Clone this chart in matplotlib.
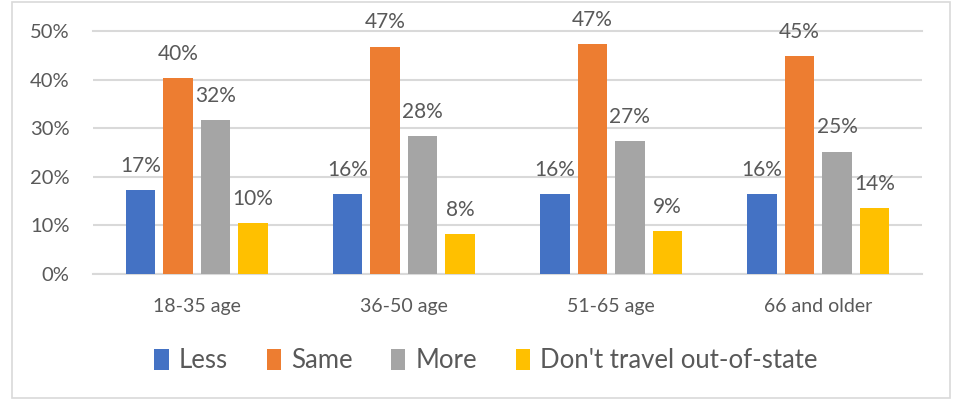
import matplotlib
matplotlib.use("Agg")
import matplotlib.pyplot as plt
from matplotlib.patches import Rectangle
import numpy as np

categories = ["18-35 age", "36-50 age", "51-65 age", "66 and older"]
series_names = ["Less", "Same", "More", "Don't travel out-of-state"]
less = [17.2, 16.4, 16.4, 16.4]
same = [40.4, 46.8, 47.3, 44.8]
more = [31.7, 28.4, 27.4, 25.2]
dont_travel = [10.4, 8.2, 8.8, 13.6]
y_ticks = [0, 10, 20, 30, 40, 50]

colors = ["#4472C4", "#ED7D31", "#A5A5A5", "#FFC000"]
text_color = "#595959"
grid_color = "#D9D9D9"

plt.rcParams["font.family"] = ["Lato", "DejaVu Sans"]

fig = plt.figure(figsize=(9.54, 4.03), dpi=100)
fig.patches.append(Rectangle((12 / 954, 5 / 403), 938 / 954, 396 / 403,
                             transform=fig.transFigure, fill=False,
                             edgecolor="#D9D9D9", linewidth=1.2))

ax = fig.add_axes([93 / 954, 1 - 274 / 403, 829 / 954, 243 / 403])

x = np.arange(len(categories))
pitch = 0.181
width = 0.1415
all_series = [less, same, more, dont_travel]
for i, (vals, name) in enumerate(zip(all_series, series_names)):
    pos = x + (i - 1.5) * pitch
    ax.bar(pos, vals, width=width, color=colors[i], label=name, zorder=3)
    for px, v in zip(pos, vals):
        ax.annotate(f"{v:.0f}%", (px, v), xytext=(0, 13), textcoords="offset points",
                    ha="center", va="baseline", fontsize=15, color=text_color)

ax.set_xlim(-0.5, len(categories) - 0.5)
ax.set_ylim(0, 50)
ax.set_yticks(y_ticks)
ax.set_yticklabels([f"{t}%" for t in y_ticks])
ax.set_xticks(x)
ax.set_xticklabels(categories)
ax.grid(axis="y", color=grid_color, linewidth=1.5, zorder=0)
ax.set_axisbelow(True)
for s in ["top", "right", "left"]:
    ax.spines[s].set_visible(False)
ax.spines["bottom"].set_color(grid_color)
ax.spines["bottom"].set_linewidth(1.5)
ax.tick_params(axis="both", length=0, colors=text_color)
ax.tick_params(axis="y", pad=17, labelsize=14.5)
ax.tick_params(axis="x", pad=17, labelsize=14)
ax.yaxis.get_gridlines()[-1].set_clip_on(False)

leg = fig.legend(loc="center", bbox_to_anchor=(486 / 954, 1 - 361 / 403), ncol=4,
                 frameon=False, fontsize=18.5, handlelength=0.55, handleheight=0.9,
                 handletextpad=0.4, columnspacing=1.5, labelcolor=text_color)

fig.savefig("out.png", dpi=100)
